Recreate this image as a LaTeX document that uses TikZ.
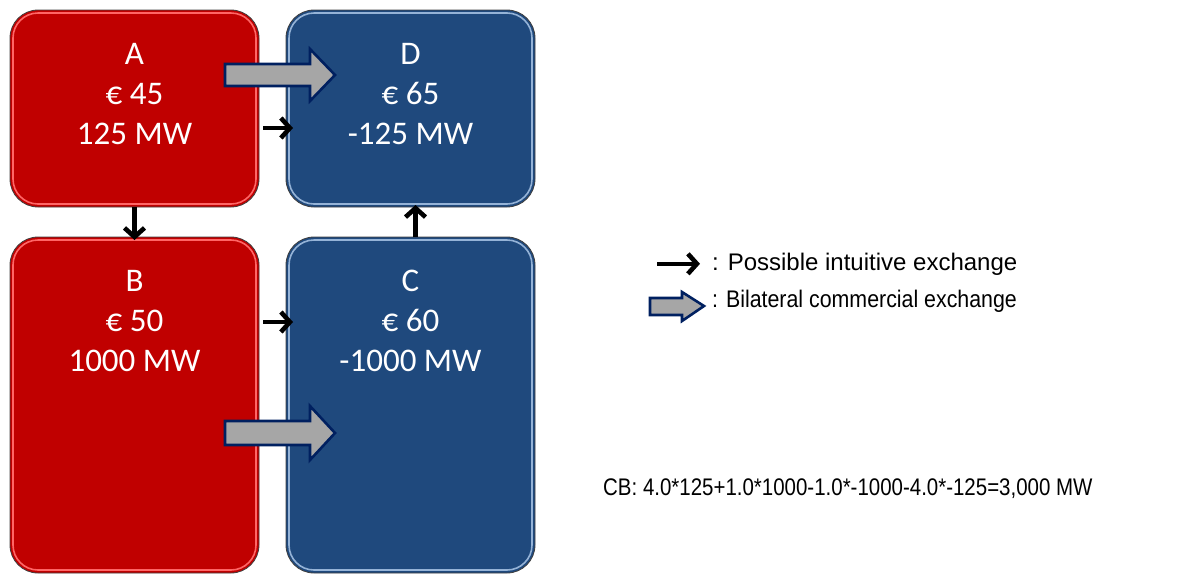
\documentclass[tikz,border=0pt]{standalone}
\usepackage{fontspec}
\setmainfont{Carlito}
\newfontfamily\arialfont{Liberation Sans}
\usetikzlibrary{positioning}
\usetikzlibrary{arrows.meta}
\definecolor{boxred}{HTML}{C00000}
\definecolor{boxblue}{HTML}{1F497D}
\definecolor{rimred}{HTML}{FF6666}
\definecolor{rimblue}{HTML}{95B3D7}
\definecolor{arrowgray}{HTML}{A6A6A6}
\definecolor{arrowblue}{HTML}{002060}
\tikzset{
	box/.style = {
		rectangle,
		rounded corners=28pt,
		inner sep=0pt,
		outer sep=0pt,
		draw=black!75,
		line width=0.8pt,
		minimum width=249pt,
		minimum height=197pt
	},
	box_r/.style = {
		box,
		fill=boxred
	},
	box_b/.style = {
		box,
		fill=boxblue
	},
	box_tall/.style = {
		minimum height=336pt
	},
	rim_r/.style = {
		draw=rimred,
		line width=1.6pt,
		rounded corners=25pt
	},
	rim_b/.style = {
		draw=rimblue,
		line width=1.6pt,
		rounded corners=25pt
	},
	boxtext/.style = {
		align=center,
		inner sep=0pt,
		text=white,
		font=\fontsize{33}{40}\selectfont
	},
	flow/.style = {
		-{Straight Barb[length=9pt,width=20pt]},
		line width=4.6pt
	},
	bigarrow/.style = {
		fill=arrowgray,
		draw=arrowblue,
		line width=2.6pt,
		line join=miter
	},
	legend/.style = {
		anchor=base west,
		inner sep=0pt,
		font=\arialfont\fontsize{24}{28}\selectfont
	}
}
\begin{document}
\begin{tikzpicture}[x=1pt,y=-1pt]
\useasboundingbox (0,0) rectangle (1199,574);
% the four areas
\node [box_r] (A) at (134.5,108.5) {};
\node [box_b] (D) at (410.5,108.5) {};
\node [box_r, box_tall] (B) at (134.5,405) {};
\node [box_b, box_tall] (C) at (410.5,405) {};
\foreach \n/\s in {A/rim_r, B/rim_r, C/rim_b, D/rim_b}
	\draw [\s] ([shift={(3pt,-3pt)}]\n.north west) rectangle ([shift={(-3pt,3pt)}]\n.south east);
\node [boxtext, below=33pt of A.north] (A_txt) {A\\€ 45\\125 MW};
\node [boxtext, below=33pt of D.north] (D_txt) {D\\€ 65\\-125 MW};
\node [boxtext, below=33pt of B.north] (B_txt) {B\\€ 50\\1000 MW};
\node [boxtext, below=33pt of C.north] (C_txt) {C\\€ 60\\-1000 MW};
% bilateral exchanges
\draw [bigarrow] (225,64) -- (310,64) -- (310,49) -- (335,75) -- (310,101) -- (310,86) -- (225,86) -- cycle;
\draw [bigarrow] (225,421) -- (310,421) -- (310,406) -- (335,433) -- (310,460) -- (310,445) -- (225,445) -- cycle;
% intuitive exchanges
\draw [flow, shorten <=4pt, shorten >=-7pt] ([yshift=-19.5pt]A.east) -- ([yshift=-19.5pt]D.west);
\draw [flow, shorten <=4pt, shorten >=-7pt] ([yshift=83pt]B.east) -- ([yshift=83pt]C.west);
\draw [flow, shorten >=-3pt] (A) -- (B);
\draw [flow, shorten >=-2pt] ([xshift=5pt]C.north) -- ([xshift=5pt]D.south);
% legend
\node [legend] (leg_flow) at (712,270) {: Possible intuitive exchange};
\node [legend] (leg_big) at (712,307) {\scalebox{0.89}[1]{: Bilateral commercial exchange}};
\draw [flow] ([xshift=-55pt]leg_flow.west) -- ([xshift=-12pt]leg_flow.west);
\draw [bigarrow] (650,298) -- (682,298) -- (682,292) -- (704,306) -- (682,321) -- (682,315) -- (650,315) -- cycle;
\node [legend] (cb) at (603,495) {\scalebox{0.853}[1]{CB: 4.0*125+1.0*1000-1.0*-1000-4.0*-125=3,000 MW}};
\end{tikzpicture}
\end{document}
